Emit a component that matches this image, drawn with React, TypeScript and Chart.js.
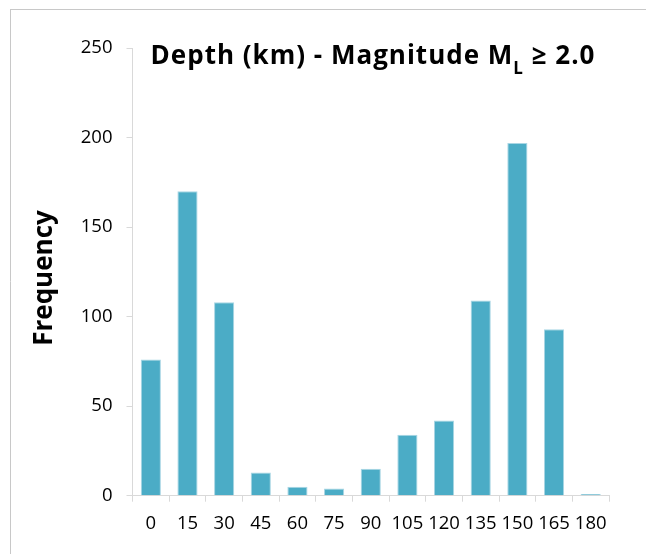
import React, { useEffect, useRef } from "react";
import { Chart, registerables } from "chart.js";

Chart.register(...registerables);

const categories = ["0", "15", "30", "45", "60", "75", "90", "105", "120", "135", "150", "165", "180"];
const frequency = [76, 170, 108, 13, 5, 4, 15, 34, 42, 109, 197, 93, 1];
const yMin = 0;
const yMax = 250;
const yStep = 50;

const titleMain = "Depth (km) - Magnitude M";
const titleSub = "L";
const titleEnd = " \u2265 2.0";
const yTitle = "Frequency";

const FONT = '"Open Sans", "Liberation Sans", sans-serif';

const decorPlugin = {
  id: "decor",
  beforeDraw(chart: any) {
    const { ctx, width, height } = chart;
    ctx.save();
    ctx.fillStyle = "#ffffff";
    ctx.fillRect(0, 0, width, height);
    ctx.strokeStyle = "#c8c8c8";
    ctx.lineWidth = 1;
    ctx.beginPath();
    ctx.moveTo(10, 9.5);
    ctx.lineTo(width, 9.5);
    ctx.moveTo(10.5, 9);
    ctx.lineTo(10.5, height);
    ctx.stroke();
    ctx.restore();
  },
  afterDraw(chart: any) {
    const { ctx } = chart;
    ctx.save();
    ctx.fillStyle = "#000000";
    ctx.textBaseline = "alphabetic";
    ctx.textAlign = "left";
    const mainFont = `bold 26px ${FONT}`;
    const subFont = `bold 17px ${FONT}`;
    const spacing = 1;
    ctx.letterSpacing = `${spacing}px`;
    ctx.font = mainFont;
    const w1 = ctx.measureText(titleMain).width;
    const w3 = ctx.measureText(titleEnd).width;
    ctx.font = subFont;
    const w2 = ctx.measureText(titleSub).width;
    const total = w1 + w2 + w3 - spacing;
    const cx = 372.5;
    const baseY = 63.5;
    let x = cx - total / 2;
    ctx.font = mainFont;
    ctx.fillText(titleMain, x, baseY);
    x += w1;
    ctx.font = subFont;
    ctx.fillText(titleSub, x, baseY + 10.5);
    x += w2;
    ctx.font = mainFont;
    ctx.fillText(titleEnd, x, baseY);
    ctx.letterSpacing = "0px";

    ctx.translate(45, 278);
    ctx.rotate(-Math.PI / 2);
    ctx.textAlign = "center";
    ctx.textBaseline = "middle";
    ctx.font = `bold 26px ${FONT}`;
    ctx.fillText(yTitle, 0, 0);
    ctx.restore();
  },
};

export default function App() {
  const canvasRef = useRef<HTMLCanvasElement | null>(null);

  useEffect(() => {
    if (!canvasRef.current) return;
    const chart = new Chart(canvasRef.current, {
      type: "bar",
      data: {
        labels: categories,
        datasets: [
          {
            label: "Frequency",
            data: frequency,
            backgroundColor: "#4bacc6",
            borderColor: "#a9d6e4",
            borderWidth: 1,
            barPercentage: 0.55,
            categoryPercentage: 1,
          },
        ],
      },
      options: {
        responsive: false,
        animation: false,
        devicePixelRatio: 1,
        layout: { padding: { top: 48, right: 37, bottom: 0, left: 0 } },
        plugins: {
          legend: { display: false },
          title: { display: false },
          tooltip: { enabled: false },
        },
        scales: {
          x: {
            afterFit(scale: any) {
              scale.height = 58.3;
            },
            grid: {
              display: true,
              offset: true,
              drawOnChartArea: false,
              drawTicks: true,
              tickLength: 6,
              color: "#d9d9d9",
            },
            border: { display: true, color: "#d9d9d9" },
            ticks: {
              color: "#000000",
              font: { family: FONT, size: 18.5 },
              padding: 11,
              maxRotation: 0,
              autoSkip: false,
            },
          },
          y: {
            min: yMin,
            max: yMax,
            afterFit(scale: any) {
              scale.width = 132.5;
            },
            grid: {
              display: true,
              drawOnChartArea: false,
              drawTicks: true,
              tickLength: 6,
              color: "#d9d9d9",
            },
            border: { display: true, color: "#d9d9d9" },
            ticks: {
              stepSize: yStep,
              color: "#000000",
              font: { family: FONT, size: 18.5 },
              padding: 14,
            },
          },
        },
      },
      plugins: [decorPlugin],
    });
    return () => chart.destroy();
  }, []);

  return (
    <div style={{ position: "fixed", left: 0, top: 0, width: 646, height: 554, overflow: "hidden", background: "#fff" }}>
      <canvas ref={canvasRef} width={646} height={554} style={{ display: "block", width: 646, height: 554 }} />
    </div>
  );
}
